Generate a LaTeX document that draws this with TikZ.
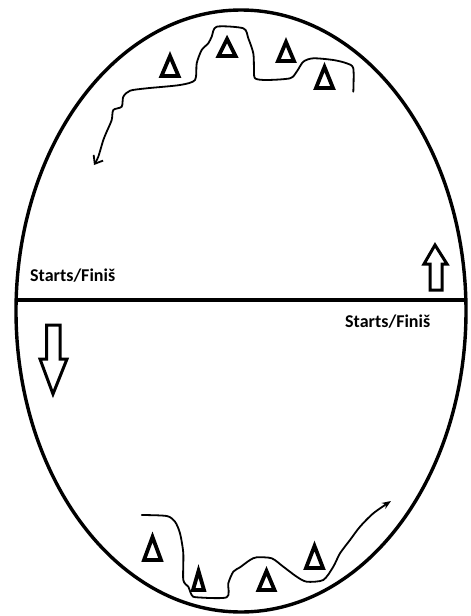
\documentclass[tikz,border=0pt]{standalone}
\usepackage{fontspec}
\newfontfamily\calibri{Carlito}
\usepackage{tikz}
\usetikzlibrary{arrows.meta}

\begin{document}
\begin{tikzpicture}[
  x=1pt, y=-1pt,
  rim/.style={draw=black, line width=3.4pt},
  gate/.style={draw=black, line width=3.8pt},
  track/.style={draw=black, line width=1.8pt, line join=round, line cap=round},
  cone/.style={draw=black, line width=3.8pt, line join=miter},
  block/.style={draw=black, fill=white, line width=3pt, line join=miter},
  lab/.style={font=\calibri\bfseries\fontsize{18}{18}\selectfont, inner sep=0pt, anchor=base west}
]
\useasboundingbox (0,0) rectangle (471,616);

% Oval course and the start/finish line across it.
\draw[rim] (241,311) ellipse [x radius=225, y radius=301];
\coordinate (lineW) at (16.2,300);
\coordinate (lineE) at (465.8,300);
\draw[gate] (lineW) -- (lineE);

\node[lab] (startW) at (30,281) {Starts/Finiš};
\node[lab] (startE) at (345,327) {Starts/Finiš};

% Direction arrows beside the line.
\draw[block] (435,245) -- (447,264) -- (442,264) -- (442,290) -- (430,290)
  -- (430,264) -- (424,264) -- cycle;
\draw[block] (46.5,325) -- (60,325) -- (60,359) -- (67,359) -- (53,394)
  -- (40,359) -- (46.5,359) -- cycle;

% Upper stretch: the route winds between the cones.
\draw[track, -{Straight Barb[length=7pt,width=11pt]}] plot[smooth, tension=.45] coordinates {
  (353.3,91.7) (353.3,68.3) (346.7,63.3) (333.3,60) (313.3,58.3) (303.3,61.7)
  (296.7,71.7) (290,78.3) (266.7,80) (255,78.3) (254,68.3) (253.3,53.3)
  (248.3,38.3) (243.3,28.3) (216.7,26.7) (211.7,36.7) (208.3,43.3) (201.7,50)
  (196.7,63.3) (195,80) (180,85) (146.7,88.3) (130,90.7) (123.3,96.7)
  (121.7,106.7) (113.3,110) (111.7,120) (106.7,131.7) (103.3,140) (98.3,156.7)
  (94,165)};

% Lower stretch.
\draw[track, -{Stealth[length=9pt,width=7pt]}] plot[smooth, tension=.45] coordinates {
  (141.7,515) (166.7,516) (175,521.7) (180,533.3) (183.3,553.3) (183.3,580)
  (188.3,586.7) (191.7,595) (196.7,597.3) (226.7,597.3) (228.3,583.3)
  (233.3,571.7) (240,567.3) (250,560) (256.7,557.3) (271.7,558.3) (283.3,566.7)
  (296.7,576.7) (306.7,581.7) (323.3,580) (333.3,566.7) (340,553.3) (350,540)
  (360,526.7) (373.3,513.3) (391,501)};

% Cones: centre x / apex y / base y / half width.
\foreach \cx/\ctop/\cbot/\hw in {170/56/76/8.5, 227/39/56/8.5, 286/42/61/8,
    324.5/67/88/8.5, 152.5/537/560/8.5, 198.5/571/590/5.5, 266.5/571/590/8,
    314.5/546/568/8.5}
  \draw[cone] (\cx-\hw,\cbot) -- (\cx,\ctop) -- (\cx+\hw,\cbot) -- cycle;
\end{tikzpicture}
\end{document}
